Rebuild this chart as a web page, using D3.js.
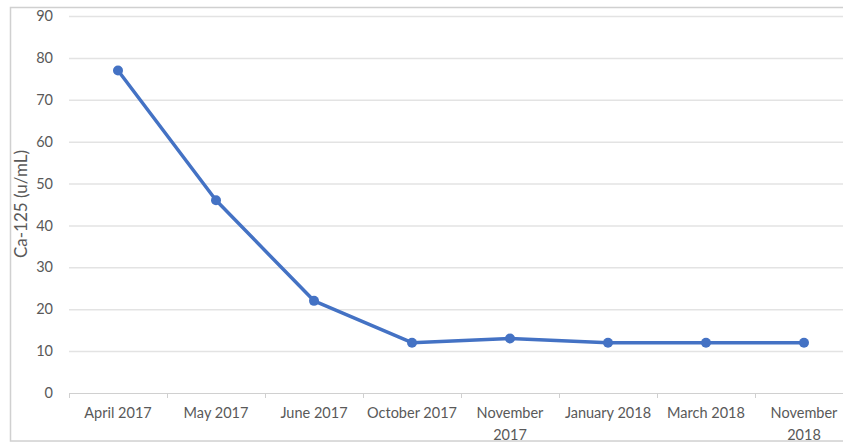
<!DOCTYPE html>
<html>
<head>
<meta charset="utf-8">
<script src="https://cdn.jsdelivr.net/npm/d3@7"></script>
<style>
  body { margin: 0; background: #fff; }
  svg { display: block; font-family: Lato, "Open Sans", sans-serif; }
</style>
</head>
<body>
<div id="chart"></div>
<script>
// data
const dates = [["April 2017"], ["May 2017"], ["June 2017"], ["October 2017"],
  ["November", "2017"], ["January 2018"], ["March 2018"], ["November", "2018"]];
const ca125 = [77, 46, 22, 12, 13, 12, 12, 12];
const yTicks = [0, 10, 20, 30, 40, 50, 60, 70, 80, 90];

const width = 843, height = 443;
const plotLeft = 69, plotRight = 853, plotTop = 16, plotBottom = 393;

const svg = d3.select("#chart").append("svg")
  .attr("width", width)
  .attr("height", height);

// chart frame
svg.append("rect")
  .attr("x", 10.5).attr("y", 7.5)
  .attr("width", 900).attr("height", 433.5)
  .attr("fill", "none")
  .attr("stroke", "#d0d0d0")
  .attr("stroke-width", 1.5);

const x = d3.scaleBand()
  .domain(dates.map((d, i) => i))
  .range([plotLeft, plotRight]);

const y = d3.scaleLinear()
  .domain([0, 90])
  .range([plotBottom, plotTop]);

// gridlines
svg.append("g")
  .selectAll("line")
  .data(yTicks.filter(t => t > 0))
  .join("line")
  .attr("x1", plotLeft).attr("x2", plotRight)
  .attr("y1", d => y(d) + 0.5).attr("y2", d => y(d) + 0.5)
  .attr("stroke", "#e3e3e3")
  .attr("stroke-width", 1.5);

// y tick labels
svg.append("g")
  .selectAll("text")
  .data(yTicks)
  .join("text")
  .attr("x", 53)
  .attr("y", d => y(d))
  .attr("dy", "0.35em")
  .attr("text-anchor", "end")
  .attr("font-size", 14.5)
  .attr("fill", "#595959")
  .text(d => d);

// x axis line + ticks between categories
svg.append("line")
  .attr("x1", plotLeft).attr("x2", plotRight)
  .attr("y1", plotBottom + 0.5).attr("y2", plotBottom + 0.5)
  .attr("stroke", "#d0d0d0")
  .attr("stroke-width", 1.2);

svg.append("g")
  .selectAll("line")
  .data(dates.map((d, i) => i))
  .join("line")
  .attr("x1", d => x(d) + 0.5).attr("x2", d => x(d) + 0.5)
  .attr("y1", plotBottom).attr("y2", plotBottom + 5)
  .attr("stroke", "#d0d0d0");

// x labels
const xl = svg.append("g")
  .selectAll("text")
  .data(dates)
  .join("text")
  .attr("text-anchor", "middle")
  .attr("font-size", 14.5)
  .attr("fill", "#595959")
  .attr("y", 418);
xl.selectAll("tspan")
  .data((d, i) => d.map(s => ({ s, i })))
  .join("tspan")
  .attr("x", d => x(d.i) + x.bandwidth() / 2)
  .attr("dy", (d, j) => j === 0 ? 0 : 22)
  .text(d => d.s);

// y axis title
svg.append("text")
  .attr("transform", `translate(21,204) rotate(-90)`)
  .attr("text-anchor", "middle")
  .attr("dy", "0.35em")
  .attr("font-size", 17)
  .attr("fill", "#595959")
  .text("Ca-125 (u/mL)");

// line
const line = d3.line()
  .x((d, i) => x(i) + x.bandwidth() / 2)
  .y(d => y(d));

svg.append("path")
  .datum(ca125)
  .attr("d", line)
  .attr("fill", "none")
  .attr("stroke", "#4472C4")
  .attr("stroke-width", 3.5)
  .attr("stroke-linejoin", "round");

svg.append("g")
  .selectAll("circle")
  .data(ca125)
  .join("circle")
  .attr("cx", (d, i) => x(i) + x.bandwidth() / 2)
  .attr("cy", d => y(d))
  .attr("r", 5)
  .attr("fill", "#4472C4");
</script>
</body>
</html>
